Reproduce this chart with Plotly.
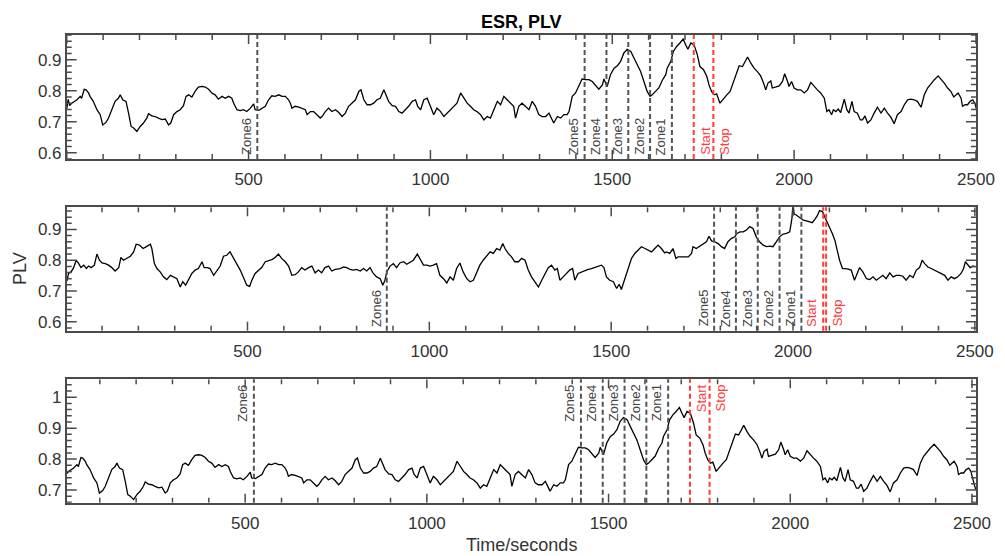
import math
import plotly.graph_objects as go

# ---------------------------------------------------------------------------
# PLV time courses (time in seconds, phase-locking value)
# Event A is used in the upper and lower panels, event B in the middle panel.
# ---------------------------------------------------------------------------
plv_a_time = [
    0, 4, 8, 14, 28, 37, 41, 48, 53, 60,
    64, 73, 83, 92, 99, 108, 115, 124, 133, 142,
    147, 154, 163, 170, 177, 184, 193, 202, 211, 220,
    225, 234, 243, 252, 262, 271, 280, 286, 294, 303,
    312, 321, 328, 335, 344, 353, 362, 372, 381, 390,
    399, 408, 417, 427, 436, 445, 454, 459, 468, 477,
    486, 495, 505, 514, 518, 528, 537, 546, 555, 564,
    573, 583, 592, 601, 610, 615, 619, 628, 638, 647,
    656, 661, 670, 679, 688, 697, 702, 711, 720, 729,
    739, 748, 757, 766, 775, 784, 794, 803, 809, 817,
    826, 835, 844, 853, 862, 872, 876, 885, 895, 904,
    913, 922, 931, 940, 950, 959, 965, 973, 982, 991,
    1000, 1009, 1018, 1028, 1037, 1046, 1055, 1064, 1073, 1083,
    1092, 1101, 1110, 1119, 1128, 1138, 1147, 1156, 1165, 1174,
    1184, 1193, 1202, 1211, 1220, 1229, 1234, 1243, 1252, 1262,
    1271, 1280, 1289, 1298, 1307, 1317, 1326, 1335, 1339, 1349,
    1358, 1367, 1376, 1381, 1390, 1399, 1408, 1417, 1427, 1436,
    1445, 1454, 1463, 1473, 1477, 1486, 1495, 1505, 1514, 1523,
    1532, 1541, 1551, 1560, 1569, 1578, 1587, 1596, 1604, 1610,
    1619, 1628, 1638, 1647, 1651, 1661, 1668, 1677, 1686, 1695,
    1702, 1708, 1716, 1725, 1734, 1741, 1751, 1760, 1766, 1773,
    1780, 1787, 1796, 1806, 1815, 1824, 1833, 1842, 1849, 1858,
    1864, 1872, 1881, 1890, 1899, 1908, 1916, 1922, 1928, 1936,
    1940, 1950, 1959, 1968, 1974, 1982, 1986, 1993, 2000, 2009,
    2018, 2028, 2037, 2046, 2055, 2064, 2073, 2083, 2090, 2096,
    2103, 2108, 2115, 2121, 2128, 2138, 2145, 2151, 2159, 2165,
    2174, 2182, 2188, 2195, 2202, 2211, 2220, 2229, 2239, 2248,
    2257, 2266, 2275, 2284, 2294, 2303, 2312, 2321, 2330, 2339,
    2349, 2358, 2367, 2376, 2385, 2396, 2404, 2413, 2422, 2431,
    2439, 2445, 2451, 2459, 2463, 2470, 2477, 2484, 2491, 2497,
    2503, 2507, 2511,
]
plv_a = [
    .742, .772, .752, .760, .771, .782, .776, .805, .803, .793,
    .782, .766, .739, .723, .690, .698, .712, .739, .766, .776,
    .787, .771, .766, .728, .685, .680, .669, .685, .696, .712,
    .726, .719, .717, .712, .707, .709, .690, .696, .723, .733,
    .739, .752, .782, .787, .780, .798, .812, .814, .812, .805,
    .793, .787, .773, .782, .776, .782, .776, .760, .739, .736,
    .739, .733, .744, .758, .739, .737, .744, .750, .771, .784,
    .782, .787, .782, .782, .771, .760, .744, .750, .747, .744,
    .739, .723, .733, .733, .723, .712, .717, .733, .744, .733,
    .739, .730, .717, .728, .750, .760, .771, .798, .803, .771,
    .755, .755, .760, .771, .776, .803, .793, .766, .752, .750,
    .733, .728, .739, .750, .766, .771, .750, .739, .771, .776,
    .750, .723, .744, .733, .717, .728, .739, .750, .760, .793,
    .776, .760, .750, .739, .733, .723, .706, .717, .712, .739,
    .766, .755, .782, .771, .760, .750, .712, .750, .760, .750,
    .739, .766, .750, .723, .717, .717, .728, .706, .696, .717,
    .712, .723, .723, .733, .782, .793, .814, .838, .836, .836,
    .830, .819, .805, .819, .838, .814, .852, .873, .881, .895,
    .922, .934, .927, .905, .884, .862, .830, .798, .782, .787,
    .798, .809, .835, .852, .873, .895, .927, .943, .954, .967,
    .948, .934, .954, .948, .916, .878, .868, .846, .819, .798,
    .787, .790, .760, .776, .787, .798, .830, .862, .881, .878,
    .891, .909, .889, .873, .862, .848, .825, .803, .825, .832,
    .809, .812, .816, .830, .855, .830, .814, .830, .809, .803,
    .803, .793, .803, .827, .814, .803, .793, .776, .733, .739,
    .723, .739, .733, .741, .730, .773, .739, .728, .766, .733,
    .728, .706, .706, .719, .696, .706, .728, .747, .728, .744,
    .728, .715, .694, .723, .733, .755, .771, .773, .771, .766,
    .747, .787, .809, .823, .835, .848, .838, .825, .809, .798,
    .780, .787, .793, .776, .750, .755, .755, .766, .771, .760,
    .728, .715, .700,
]

plv_b_time = [
    0, 4, 8, 15, 22, 29, 36, 42, 50, 57,
    63, 70, 79, 86, 93, 100, 109, 118, 127, 136,
    146, 152, 159, 169, 178, 187, 194, 203, 213, 222,
    233, 237, 244, 251, 260, 269, 278, 288, 297, 306,
    315, 322, 330, 338, 347, 356, 365, 375, 381, 390,
    397, 407, 416, 425, 434, 443, 452, 462, 473, 480,
    489, 498, 506, 512, 521, 530, 539, 549, 558, 567,
    576, 585, 594, 604, 613, 622, 631, 640, 649, 658,
    668, 677, 686, 695, 704, 713, 723, 732, 741, 755,
    764, 773, 782, 791, 800, 810, 819, 828, 837, 846,
    855, 865, 872, 878, 883, 892, 901, 910, 919, 929,
    938, 947, 956, 967, 974, 984, 993, 1002, 1011, 1020,
    1029, 1039, 1048, 1057, 1066, 1075, 1084, 1093, 1103, 1112,
    1121, 1130, 1139, 1148, 1158, 1167, 1176, 1185, 1194, 1202,
    1208, 1217, 1226, 1235, 1245, 1254, 1263, 1272, 1281, 1290,
    1300, 1309, 1318, 1327, 1336, 1345, 1352, 1359, 1368, 1377,
    1386, 1394, 1400, 1409, 1419, 1428, 1437, 1446, 1455, 1464,
    1473, 1480, 1487, 1496, 1506, 1515, 1522, 1528, 1538, 1547,
    1556, 1565, 1574, 1583, 1593, 1602, 1611, 1620, 1629, 1638,
    1647, 1652, 1661, 1670, 1678, 1684, 1693, 1702, 1712, 1721,
    1725, 1734, 1744, 1753, 1762, 1769, 1776, 1785, 1794, 1803,
    1812, 1821, 1831, 1840, 1846, 1854, 1863, 1872, 1881, 1890,
    1899, 1908, 1918, 1927, 1936, 1945, 1954, 1963, 1973, 1982,
    1991, 1997, 2000, 2003, 2009, 2018, 2028, 2037, 2046, 2053,
    2060, 2066, 2073, 2081, 2087, 2093, 2101, 2108, 2115, 2121,
    2128, 2136, 2145, 2154, 2160, 2169, 2176, 2183, 2192, 2202,
    2211, 2220, 2229, 2238, 2247, 2256, 2266, 2275, 2284, 2293,
    2302, 2311, 2321, 2330, 2339, 2348, 2355, 2362, 2371, 2380,
    2389, 2398, 2408, 2417, 2426, 2435, 2444, 2453, 2462, 2469,
    2474, 2481, 2487, 2495, 2502,
]
plv_b = [
    .737, .735, .757, .762, .776, .800, .789, .776, .784, .773,
    .781, .776, .784, .820, .800, .791, .789, .784, .776, .765,
    .776, .809, .800, .806, .813, .827, .852, .849, .838, .844,
    .852, .838, .789, .773, .762, .746, .737, .751, .746, .740,
    .713, .730, .719, .735, .757, .768, .773, .795, .776, .776,
    .773, .751, .768, .781, .813, .816, .827, .806, .781, .768,
    .744, .719, .715, .735, .757, .768, .776, .795, .798, .802,
    .809, .820, .806, .795, .781, .751, .753, .762, .776, .768,
    .776, .781, .759, .768, .759, .776, .781, .765, .770, .773,
    .778, .776, .770, .768, .770, .765, .773, .765, .776, .757,
    .746, .740, .719, .735, .762, .781, .789, .776, .791, .795,
    .787, .795, .800, .820, .806, .784, .784, .781, .784, .789,
    .751, .740, .726, .746, .735, .773, .791, .762, .740, .730,
    .735, .757, .784, .800, .813, .827, .822, .838, .833, .854,
    .838, .822, .811, .795, .795, .806, .800, .768, .746, .730,
    .713, .735, .757, .776, .784, .768, .773, .735, .746, .757,
    .768, .773, .735, .757, .762, .768, .770, .773, .776, .781,
    .784, .776, .746, .735, .730, .708, .722, .705, .740, .778,
    .806, .822, .833, .844, .838, .833, .827, .838, .849, .838,
    .824, .827, .822, .838, .806, .811, .811, .813, .811, .822,
    .844, .838, .846, .854, .860, .878, .863, .860, .854, .844,
    .838, .860, .871, .876, .887, .892, .892, .898, .909, .903,
    .876, .860, .849, .844, .846, .844, .860, .876, .885, .887,
    .892, .936, .985, .950, .947, .939, .930, .928, .925, .922,
    .933, .943, .961, .958, .941, .925, .909, .887, .865, .833,
    .800, .773, .773, .770, .768, .735, .759, .776, .762, .740,
    .737, .746, .735, .744, .751, .740, .759, .746, .751, .751,
    .748, .735, .751, .744, .768, .776, .800, .789, .778, .773,
    .768, .762, .757, .751, .735, .746, .740, .746, .757, .773,
    .795, .784, .776, .781, .778,
]

# Zone boundaries and stimulation markers (seconds)
zone_labels = ["Zone6", "Zone5", "Zone4", "Zone3", "Zone2", "Zone1"]
zones_a = [524, 1424, 1484, 1544, 1604, 1664]
start_a, stop_a = 1724, 1778
zones_b = [883, 1783, 1843, 1903, 1963, 2023]
start_b, stop_b = 2083, 2091

x_tick_vals = [500, 1000, 1500, 2000, 2500]

FONT = "Liberation Sans, Arial, Helvetica, sans-serif"
AXIS_COLOR = "#4a4a4a"
TEXT_COLOR = "#333333"
ZONE_COLOR = "#555555"
EVENT_COLOR = "#ff3b3b"

FIG_W, FIG_H = 1005, 556
X_DOMAIN = [0.0664, 0.9711]

# tick spacing (major / minor) and tick lengths in pixels
X_MAJOR, X_MINOR = 500, 100
Y_MAJOR, Y_MINOR = 0.1, 0.02
X_LEN_MAJOR, X_LEN_MINOR = 9, 5
Y_LEN_MAJOR, Y_LEN_MINOR = 10, 5

panels = [
    dict(t=plv_a_time, v=plv_a, xr=[0, 2500], yr=[0.58, 0.98], dom=[0.7140, 0.9371],
         zones=zones_a, start=start_a, stop=stop_a, labels_at="bottom", start_side=1),
    dict(t=plv_b_time, v=plv_b, xr=[3, 2503], yr=[0.571, 0.972], dom=[0.4052, 0.6272],
         zones=zones_b, start=start_b, stop=stop_b, labels_at="bottom", start_side=-1),
    dict(t=plv_a_time, v=plv_a, xr=[9, 2511], yr=[0.659, 1.058], dom=[0.0959, 0.3178],
         zones=zones_a, start=start_a, stop=stop_a, labels_at="top", start_side=1),
]


def tick_values(lo, hi, step):
    """Multiples of `step` lying inside [lo, hi]."""
    k0 = math.ceil(lo / step - 1e-9)
    k1 = math.floor(hi / step + 1e-9)
    return [round(k * step, 6) for k in range(k0, k1 + 1)]


def is_multiple(v, step):
    r = v / step
    return abs(r - round(r)) < 1e-6


fig = go.Figure()
shapes = []
annotations = []
layout_axes = {}

plot_w_px = (X_DOMAIN[1] - X_DOMAIN[0]) * FIG_W

for i, p in enumerate(panels, start=1):
    sfx = "" if i == 1 else str(i)
    xref, yref = f"x{sfx}", f"y{sfx}"
    plot_h_px = (p["dom"][1] - p["dom"][0]) * FIG_H
    x_lo, x_hi = p["xr"]
    y_lo, y_hi = p["yr"]
    x_per_px = (x_hi - x_lo) / plot_w_px
    y_per_px = (y_hi - y_lo) / plot_h_px

    fig.add_trace(go.Scatter(
        x=p["t"], y=p["v"], mode="lines",
        line=dict(color="black", width=1.3),
        xaxis=xref, yaxis=yref, showlegend=False, hoverinfo="skip",
    ))

    # inward tick marks on all four sides of the box, drawn as one
    # broken polyline per panel (None separates the segments)
    tx, ty = [], []
    for xv in tick_values(x_lo, x_hi, X_MINOR):
        ln = (X_LEN_MAJOR if is_multiple(xv, X_MAJOR) else X_LEN_MINOR) * y_per_px
        tx += [xv, xv, None, xv, xv, None]
        ty += [y_lo, y_lo + ln, None, y_hi, y_hi - ln, None]
    for yv in tick_values(y_lo, y_hi, Y_MINOR):
        ln = (Y_LEN_MAJOR if is_multiple(yv, Y_MAJOR) else Y_LEN_MINOR) * x_per_px
        tx += [x_lo, x_lo + ln, None, x_hi, x_hi - ln, None]
        ty += [yv, yv, None, yv, yv, None]
    fig.add_trace(go.Scatter(
        x=tx, y=ty, mode="lines", connectgaps=False,
        line=dict(color=AXIS_COLOR, width=1.5),
        xaxis=xref, yaxis=yref, showlegend=False, hoverinfo="skip",
    ))

    layout_axes[f"xaxis{sfx}"] = dict(
        domain=X_DOMAIN, anchor=yref, range=p["xr"],
        tickmode="array", tickvals=x_tick_vals, ticks="",
        showline=True, linecolor=AXIS_COLOR, linewidth=1.6, mirror=True,
        showgrid=False, zeroline=False, automargin=False,
        tickfont=dict(family=FONT, size=17, color=TEXT_COLOR),
        ticklabelstandoff=4,
    )
    layout_axes[f"yaxis{sfx}"] = dict(
        domain=p["dom"], anchor=xref, range=p["yr"],
        tickmode="linear", tick0=0, dtick=Y_MAJOR, ticks="",
        showline=True, linecolor=AXIS_COLOR, linewidth=1.6, mirror=True,
        showgrid=False, zeroline=False, automargin=False,
        tickfont=dict(family=FONT, size=17, color=TEXT_COLOR),
    )

    # dashed vertical markers
    markers = [(x, lab, ZONE_COLOR, -1) for x, lab in zip(p["zones"], zone_labels)]
    markers.append((p["start"], "Start", EVENT_COLOR, p["start_side"]))
    markers.append((p["stop"], "Stop", EVENT_COLOR, 1))
    for x, lab, col, side in markers:
        shapes.append(dict(
            type="line", xref=xref, yref=f"{yref} domain",
            x0=x, x1=x, y0=0, y1=1,
            line=dict(color=col, width=2, dash="5px,3px"),
        ))
        if p["labels_at"] == "bottom":
            ya, yv, ys = "bottom", 0, 2
        else:
            ya, yv, ys = "top", 1, -3
        annotations.append(dict(
            x=x, y=yv, xref=xref, yref=f"{yref} domain",
            text=lab, showarrow=False, textangle=-90,
            xanchor="center", xshift=11 * side,
            yanchor=ya, yshift=ys,
            font=dict(family=FONT, size=13, color=col if col == EVENT_COLOR else "#444444"),
        ))

annotations.append(dict(
    x=0.0199, y=0.518, xref="paper", yref="paper", text="PLV", showarrow=False,
    textangle=-90, xanchor="center", yanchor="middle",
    font=dict(family=FONT, size=18, color=TEXT_COLOR),
))
annotations.append(dict(
    x=0.5187, y=0.0198, xref="paper", yref="paper", text="Time/seconds", showarrow=False,
    xanchor="center", yanchor="middle",
    font=dict(family=FONT, size=18, color=TEXT_COLOR),
))

fig.update_layout(
    width=FIG_W, height=FIG_H,
    margin=dict(l=0, r=0, t=0, b=0),
    paper_bgcolor="white", plot_bgcolor="white",
    title=dict(text="<b>ESR, PLV</b>", x=0.5187, y=0.9613, xanchor="center", yanchor="middle",
               xref="paper", yref="paper",
               font=dict(family=FONT, size=18, color="black")),
    shapes=shapes, annotations=annotations,
    **layout_axes,
)

fig.write_html("out.html")
